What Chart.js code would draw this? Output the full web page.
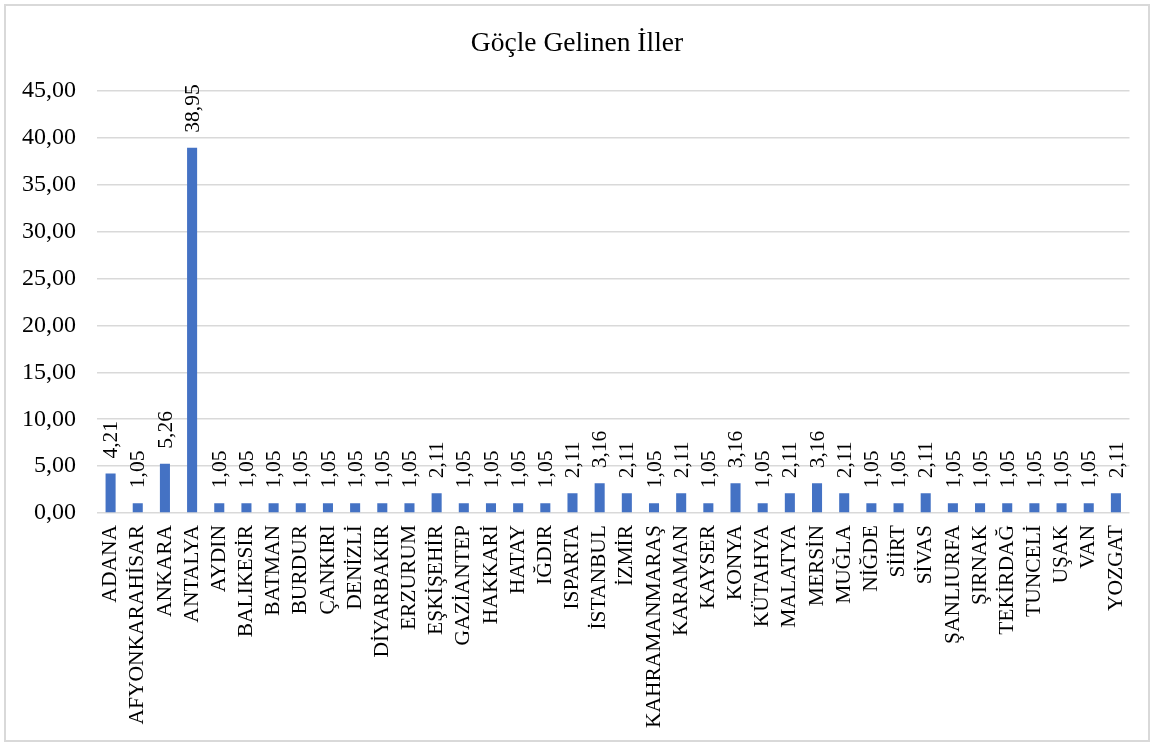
<!DOCTYPE html>
<html lang="tr">
<head>
<meta charset="utf-8">
<title>Göçle Gelinen İller</title>
<script src="https://cdn.jsdelivr.net/npm/chart.js@4.4.1/dist/chart.umd.min.js"></script>
<style>
  html, body { margin: 0; padding: 0; background: #fff; }
  #wrap { width: 1154px; height: 745px; position: relative; }
</style>
</head>
<body>
<div id="wrap"><canvas id="c" width="1154" height="745"></canvas></div>
<script>
// Provinces and their share (%)
const provinces = [
  'ADANA', 'AFYONKARAHİSAR', 'ANKARA', 'ANTALYA', 'AYDIN', 'BALIKESİR', 'BATMAN',
  'BURDUR', 'ÇANKIRI', 'DENİZLİ', 'DİYARBAKIR', 'ERZURUM', 'EŞKİŞEHİR', 'GAZİANTEP',
  'HAKKARİ', 'HATAY', 'IĞDIR', 'ISPARTA', 'İSTANBUL', 'İZMİR', 'KAHRAMANMARAŞ',
  'KARAMAN', 'KAYSER', 'KONYA', 'KÜTAHYA', 'MALATYA', 'MERSİN', 'MUĞLA', 'NİĞDE',
  'SİİRT', 'SİVAS', 'ŞANLIURFA', 'ŞIRNAK', 'TEKİRDAĞ', 'TUNCELİ', 'UŞAK', 'VAN', 'YOZGAT'
];
const shares = [
  4.21, 1.05, 5.26, 38.95, 1.05, 1.05, 1.05,
  1.05, 1.05, 1.05, 1.05, 1.05, 2.11, 1.05,
  1.05, 1.05, 1.05, 2.11, 3.16, 2.11, 1.05,
  2.11, 1.05, 3.16, 1.05, 2.11, 3.16, 2.11, 1.05,
  1.05, 2.11, 1.05, 1.05, 1.05, 1.05, 1.05, 1.05, 2.11
];
const yTicks = [0, 5, 10, 15, 20, 25, 30, 35, 40, 45];

const chartTitle = 'Göçle Gelinen İller';
const serif = '"Liberation Serif", "Times New Roman", serif';
const fmt = v => Number(v).toFixed(2).replace('.', ',');

// White page with a thin grey frame
const framePlugin = {
  id: 'frame',
  beforeDraw(chart) {
    const ctx = chart.ctx;
    ctx.save();
    ctx.fillStyle = '#ffffff';
    ctx.fillRect(0, 0, chart.width, chart.height);
    ctx.strokeStyle = '#d9d9d9';
    ctx.lineWidth = 2;
    ctx.strokeRect(5, 5, chart.width - 10, chart.height - 9);
    ctx.restore();
  }
};

// Vertical value labels above each bar
const valueLabels = {
  id: 'valueLabels',
  afterDatasetsDraw(chart) {
    const ctx = chart.ctx;
    const meta = chart.getDatasetMeta(0);
    ctx.save();
    ctx.font = '21.5px ' + serif;
    ctx.fillStyle = '#000';
    ctx.textAlign = 'left';
    ctx.textBaseline = 'middle';
    meta.data.forEach((bar, i) => {
      ctx.save();
      ctx.translate(bar.x, bar.y - 15);
      ctx.rotate(-Math.PI / 2);
      ctx.fillText(fmt(shares[i]), 0, 1);
      ctx.restore();
    });
    ctx.restore();
  }
};

new Chart(document.getElementById('c'), {
  type: 'bar',
  data: {
    labels: provinces,
    datasets: [{
      data: shares,
      backgroundColor: '#4472C4',
      borderWidth: 0,
      categoryPercentage: 1,
      barPercentage: 0.37
    }]
  },
  options: {
    responsive: false,
    animation: false,
    layout: { padding: { left: 22, right: 22, top: 0, bottom: 0 } },
    plugins: {
      legend: { display: false },
      tooltip: { enabled: false },
      title: {
        display: true,
        text: chartTitle,
        color: '#000',
        font: { family: serif, size: 27.5, weight: 'normal' },
        padding: { top: 27, bottom: 31 }
      }
    },
    scales: {
      x: {
        grid: { display: false, drawTicks: false },
        border: { display: false },
        ticks: {
          autoSkip: false,
          minRotation: 90,
          maxRotation: 90,
          padding: 12,
          color: '#000',
          font: { family: serif, size: 21.5 }
        },
        afterFit(scale) { scale.height = 232; }
      },
      y: {
        min: 0,
        max: 45,
        afterBuildTicks(scale) { scale.ticks = yTicks.map(v => ({ value: v })); },
        grid: { color: '#d9d9d9', lineWidth: 1.5, drawTicks: false },
        border: { display: false },
        ticks: {
          padding: 21,
          color: '#000',
          font: { family: serif, size: 24 },
          callback: v => fmt(v)
        },
        afterFit(scale) { scale.width = 75; }
      }
    }
  },
  plugins: [framePlugin, valueLabels]
});
</script>
</body>
</html>
